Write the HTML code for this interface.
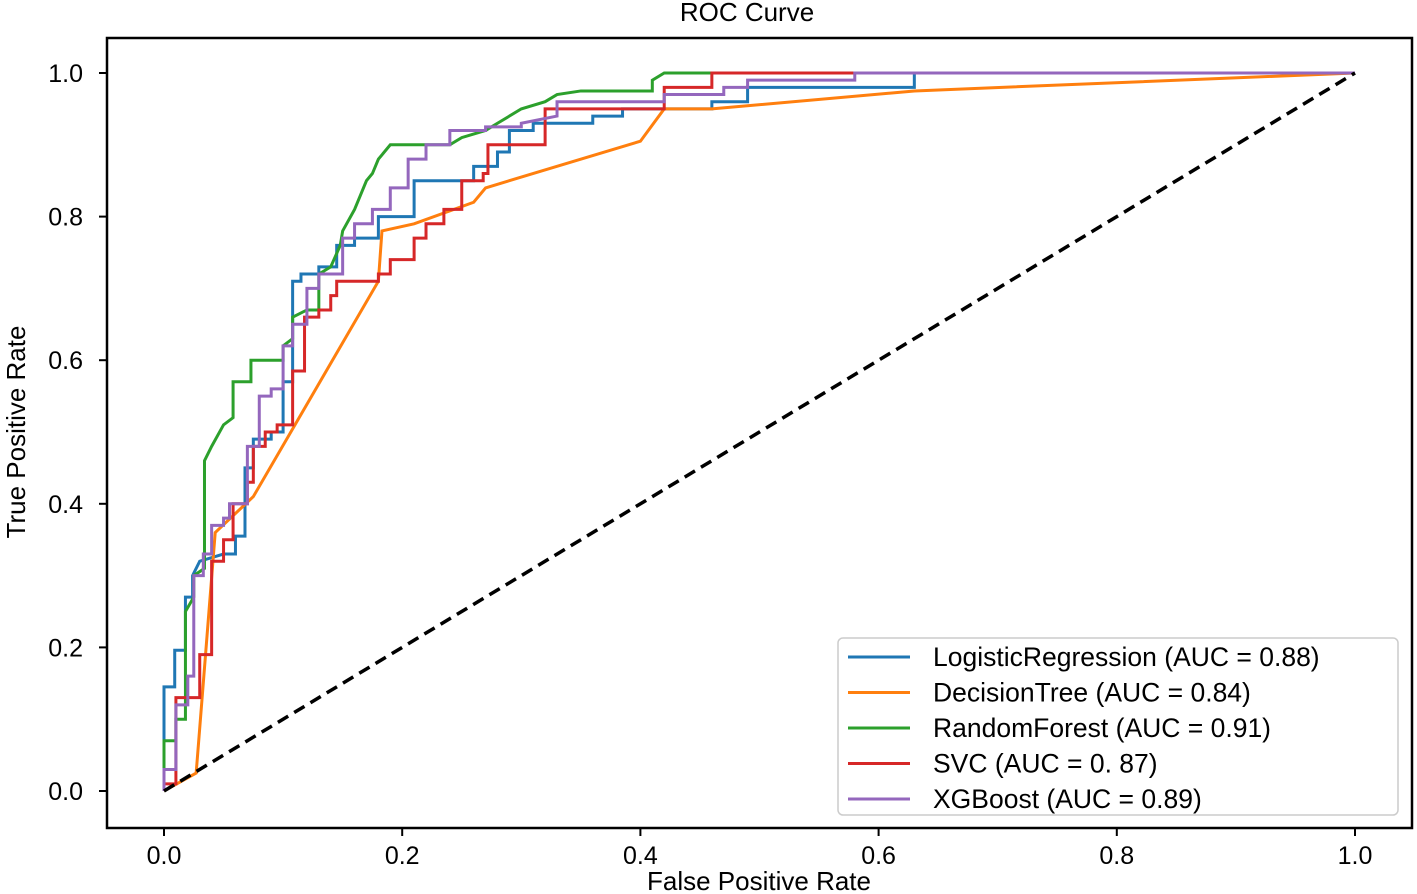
<!DOCTYPE html>
<html><head><meta charset="utf-8"><style>
body{margin:0;background:#fff}
svg{display:block;font-family:"Liberation Sans",sans-serif}
</style></head><body>
<svg id="chart" width="1417" height="894">
<text x="747" y="21" text-anchor="middle" font-size="26">ROC Curve</text>
<rect x="107" y="38" width="1305" height="790" fill="none" stroke="#000" stroke-width="2.5"/>
<g id="axes"></g>
<g id="series"></g>
<text x="759" y="890" text-anchor="middle" font-size="26">False Positive Rate</text>
<text transform="translate(25,432) rotate(-90)" text-anchor="middle" font-size="26">True Positive Rate</text>
<g>
<rect x="838" y="638" width="560" height="177" rx="5" fill="#fff" stroke="#ccc" stroke-width="1.5"/>
<g id="legend"></g>
</g>
</svg>
<script>
const xTicks=[0,0.2,0.4,0.6,0.8,1.0];
const yTicks=[0,0.2,0.4,0.6,0.8,1.0];
const names=["LogisticRegression (AUC = 0.88)","DecisionTree (AUC = 0.84)","RandomForest (AUC = 0.91)","SVC (AUC = 0. 87)","XGBoost (AUC = 0.89)"];
const colors=["#1f77b4","#ff7f0e","#2ca02c","#d62728","#9467bd"];
const lrFpr=[0,0,.009,.009,.018,.018,.024,.024,.03,.05,.06,.06,.068,.068,.075,.075,.09,.09,.1,.1,.108,.108,.115,.115,.13,.13,.145,.145,.16,.16,.18,.18,.21,.21,.26,.26,.28,.28,.29,.29,.31,.31,.36,.36,.385,.385,.46,.46,.49,.49,.63,.63,1];
const lrTpr=[0,.145,.145,.196,.196,.27,.27,.3,.32,.33,.33,.355,.355,.45,.45,.49,.49,.5,.5,.57,.57,.71,.71,.72,.72,.73,.73,.76,.76,.77,.77,.8,.8,.85,.85,.87,.87,.89,.89,.92,.92,.93,.93,.94,.94,.95,.95,.96,.96,.98,.98,1,1];
const dtFpr=[0,.027,.043,.075,.18,.183,.21,.26,.27,.4,.42,.46,.63,1];
const dtTpr=[0,.025,.36,.41,.71,.78,.79,.82,.84,.905,.95,.95,.975,1];
const rfFpr=[0,0,.01,.01,.018,.018,.025,.025,.034,.034,.04,.05,.058,.058,.073,.073,.1,.1,.108,.108,.12,.13,.13,.14,.148,.15,.16,.165,.17,.175,.18,.19,.24,.25,.27,.28,.3,.32,.33,.35,.41,.41,.42,1];
const rfTpr=[0,.07,.07,.1,.1,.25,.27,.3,.31,.46,.48,.51,.52,.57,.57,.6,.6,.62,.63,.66,.67,.67,.72,.73,.76,.78,.81,.83,.85,.86,.88,.9,.9,.91,.92,.93,.95,.96,.97,.975,.975,.99,1,1];
const svFpr=[0,0,.01,.01,.03,.03,.04,.04,.05,.05,.058,.058,.07,.07,.075,.075,.085,.085,.095,.095,.108,.108,.118,.118,.13,.13,.14,.14,.145,.145,.18,.18,.19,.19,.21,.21,.22,.22,.235,.235,.25,.25,.268,.268,.272,.272,.32,.32,.42,.42,.46,.46,1];
const svTpr=[0,.01,.01,.13,.13,.19,.19,.32,.32,.35,.35,.4,.4,.43,.43,.48,.48,.5,.5,.51,.51,.585,.585,.66,.66,.67,.67,.69,.69,.71,.71,.72,.72,.74,.74,.77,.77,.79,.79,.81,.81,.85,.85,.86,.86,.9,.9,.95,.95,.98,.98,1,1];
const xgFpr=[0,0,.01,.01,.02,.02,.025,.025,.033,.033,.04,.04,.05,.05,.055,.055,.07,.07,.08,.08,.09,.09,.1,.1,.108,.108,.12,.12,.13,.13,.15,.15,.16,.16,.175,.175,.19,.19,.205,.205,.22,.22,.24,.24,.27,.27,.3,.3,.33,.33,.42,.42,.47,.47,.49,.49,.58,.58,1];
const xgTpr=[0,.03,.03,.12,.12,.16,.16,.3,.3,.33,.33,.37,.37,.38,.38,.4,.4,.48,.48,.55,.55,.56,.56,.62,.62,.65,.65,.7,.7,.72,.72,.77,.77,.79,.79,.81,.81,.84,.84,.88,.88,.9,.9,.92,.92,.925,.925,.93,.94,.96,.96,.97,.97,.98,.98,.99,.99,1,1];
const seriesX=[lrFpr,dtFpr,rfFpr,svFpr,xgFpr];
const seriesY=[lrTpr,dtTpr,rfTpr,svTpr,xgTpr];
const seriesNames=["logistic-regression","decision-tree","random-forest","svc","xgboost"];
const NS="http://www.w3.org/2000/svg";
const sx=v=>164+v*1191, sy=v=>791-v*718;
const axes=document.getElementById('axes');
function mk(tag,attrs,parent){const e=document.createElementNS(NS,tag);for(const k in attrs)e.setAttribute(k,attrs[k]);parent.appendChild(e);return e;}
xTicks.forEach(t=>{
 const l=mk('line',{x1:sx(t),x2:sx(t),y1:828,y2:836,stroke:'#000','stroke-width':2},axes);
 
 
 const tx=mk('text',{x:sx(t),y:864,'text-anchor':'middle','font-size':25},axes);tx.textContent=t.toFixed(1);
 
 
});
yTicks.forEach(t=>{
 const l=mk('line',{x1:99,x2:107,y1:sy(t),y2:sy(t),stroke:'#000','stroke-width':2},axes);
 
 
 const tx=mk('text',{x:83,y:sy(t)+9,'text-anchor':'end','font-size':25},axes);tx.textContent=t.toFixed(1);
 
 
});
const sg=document.getElementById('series');
seriesX.forEach((xs,i)=>{
 const pts=xs.map((x,j)=>sx(x)+','+sy(seriesY[i][j])).join(' ');
 const p=mk('polyline',{points:pts,fill:'none',stroke:colors[i],'stroke-width':3,'stroke-linejoin':'miter'},sg);
 
 
});
const diag=mk('line',{x1:sx(0),y1:sy(0),x2:sx(1),y2:sy(1),stroke:'#000','stroke-width':3.5,'stroke-dasharray':'12,7'},sg);


const lg=document.getElementById('legend');
names.forEach((n,i)=>{
 const y=657+i*35.5;
 const l=mk('line',{x1:848,x2:910,y1:y,y2:y,stroke:colors[i],'stroke-width':3},lg);
 
 
 const t=mk('text',{x:933,y:y+9,'font-size':26.5},lg);t.textContent=n;
 
 
});
</script>
</body></html>
